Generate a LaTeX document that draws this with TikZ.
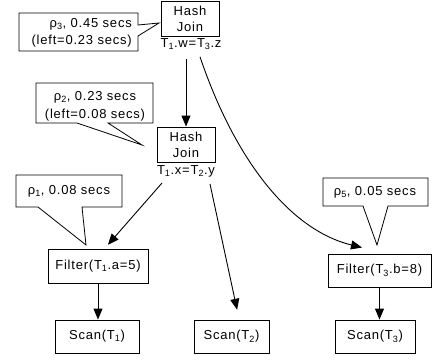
\documentclass[tikz,border=0pt]{standalone}
\usepackage{fontspec}
\setmainfont{Liberation Sans}[LetterSpace=6]
\usetikzlibrary{arrows.meta,calc}
\begin{document}
\begin{tikzpicture}[x=1pt,y=-1pt,
  font=\fontsize{13}{16}\selectfont,
  opbox/.style n args={2}{draw, line width=0.9pt, fill=white, inner sep=0pt,
    minimum width=#1, minimum height=#2, align=center},
  lab/.style={inner sep=0pt},
  arr/.style={-{Triangle[length=11pt,width=9pt]}, line width=0.9pt},
  callout/.style={draw, line width=0.8pt, fill=white, line join=miter}]
\useasboundingbox (0,0) rectangle (432,360);

% callout outlines
\draw[callout] (19,13) -- (138,13) -- (138,25) -- (159,23) -- (138,36) -- (138,51) -- (19,51) -- cycle;
\draw[callout] (36,83) -- (153,83) -- (153,123) -- (108,123) -- (142,145) -- (77,123) -- (36,123) -- cycle;
\draw[callout] (16,175) -- (122,175) -- (122,207) -- (82,207) -- (86,245) -- (38,207) -- (16,207) -- cycle;
\draw[callout] (323,178) -- (428,178) -- (428,206) -- (388,206) -- (377,245) -- (363,206) -- (323,206) -- cycle;

% callout texts
\node[lab, align=right, anchor=east, font=\fontsize{13}{17}\selectfont] (c3) at (132,32.5) {ρ\textsubscript{3}, 0.45 secs\\(left=0.23 secs)};
\node[lab, align=center, font=\fontsize{13}{18}\selectfont] (c2) at (95,106) {ρ\textsubscript{2}, 0.23 secs\\(left=0.08 secs)};
\node[lab] (c1) at (69,191) {ρ\textsubscript{1}, 0.08 secs};
\node[lab] (c5) at (375,192) {ρ\textsubscript{5}, 0.05 secs};

% operators
\node[opbox={58pt}{35pt}] (hj1) at (190,18.5) {Hash\\Join};
\node[lab] (l1) at (191,44) {T\textsubscript{1}.w=T\textsubscript{3}.z};
\node[opbox={58pt}{35pt}] (hj2) at (186,144.5) {Hash\\Join};
\node[lab] (l2) at (186,171) {T\textsubscript{1}.x=T\textsubscript{2}.y};
\node[opbox={100pt}{34pt}] (f1) at (98,266) {Filter(T\textsubscript{1}.a=5)};
\node[opbox={103pt}{33pt}] (f3) at (379.5,270.5) {Filter(T\textsubscript{3}.b=8)};
\node[opbox={84pt}{33pt}] (s1) at (97,336.5) {Scan(T\textsubscript{1})};
\node[opbox={75pt}{33pt}] (s2) at (231.5,336.5) {Scan(T\textsubscript{2})};
\node[opbox={80pt}{33pt}] (s3) at (375,336.5) {Scan(T\textsubscript{3})};

% connectors
\draw[arr, shorten <=9pt] (l1.south -| hj2.north) -- (hj2.north);
\draw[arr] ($(l1.south)+(9,7)$) .. controls (235,160) and (290,230) .. ($(f3.north)+(-17.5,-6)$);
\draw[arr, shorten >=5pt] ($(l2.south)+(-24,6)$) -- ($(f1.north)+(6.6,0)$);
\draw[arr, shorten >=10pt] ($(l2.south)+(24,7)$) -- ($(s2.north)+(7.7,0)$);
\draw[arr] (f1.south) -- (f1.south |- s1.north);
\draw[arr] (f3.south) -- (f3.south |- s3.north);
\end{tikzpicture}
\end{document}
